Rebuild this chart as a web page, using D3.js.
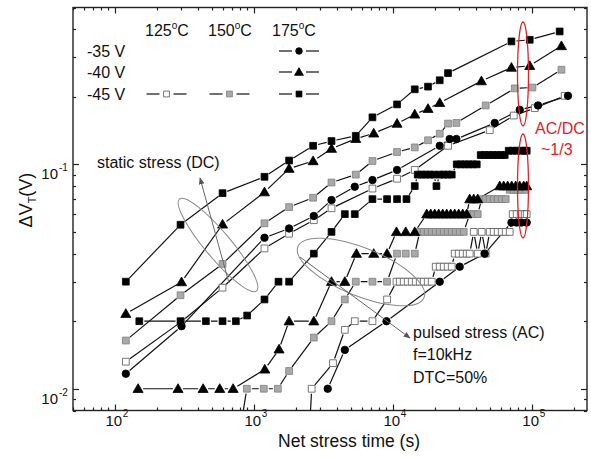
<!DOCTYPE html>
<html><head><meta charset="utf-8">
<script src="https://cdn.jsdelivr.net/npm/d3@7"></script>
<style>body{margin:0;background:#fff}svg{display:block}text{font-family:"Liberation Sans",Arial,sans-serif;fill:#111}</style>
</head><body><svg id="c" width="591" height="462"></svg>
<script>
// ---------- data (time in s, ΔVT in V) ----------
const xMajorTicks = [100, 1000, 10000, 100000];
const yMajorTicks = [0.01, 0.1];
const tempLabels = ["125", "150", "175"];
const voltLabels = ["-35 V", "-40 V", "-45 V"];

// static stress (DC)
const dcOpen125 = [[120,0.0132],[301,0.0199],[596,0.0282],[1194,0.0422],[1795,0.0491],[2704,0.0564],[3625,0.0637],[7145,0.078],[10740,0.0863],[14400,0.0944],[25000,0.121],[49900,0.142],[74300,0.165],[105200,0.178],[172600,0.202]];
const dcGray150 = [[120,0.0164],[297,0.0261],[596,0.036],[1194,0.0546],[1795,0.0645],[2673,0.071],[3625,0.083],[5420,0.090],[7145,0.1035],[10740,0.1135],[14400,0.119],[17940,0.128],[21780,0.137],[25000,0.152],[28700,0.153],[46650,0.183],[75500,0.218],[101200,0.220],[163700,0.264]];
const dcCircle175 = [[120,0.01167],[302,0.019],[1194,0.0471],[1795,0.0518],[2704,0.0589],[3625,0.0693],[5330,0.0795],[7145,0.0851],[10740,0.0944],[21780,0.121],[25700,0.1297],[28700,0.1297],[54200,0.153],[82000,0.175],[111000,0.183],[182500,0.202]];
const dcTri175 = [[120,0.0216],[302,0.0299],[596,0.054],[1194,0.0752],[1795,0.0957],[2673,0.1035],[3625,0.1175],[5420,0.130],[7295,0.1375],[10740,0.152],[14400,0.167],[17940,0.177],[21780,0.188],[43450,0.235],[71450,0.270],[96800,0.275],[163700,0.337]];
const dcSq175 = [[120,0.030],[297,0.0538],[596,0.0744],[1194,0.088],[1795,0.104],[2673,0.121],[3625,0.127],[5420,0.134],[7145,0.162],[10740,0.185],[14400,0.216],[17940,0.222],[21780,0.237],[25000,0.255],[71450,0.353],[96800,0.359],[158900,0.391]];

// pulsed stress (AC)
const acOpen125 = [[2500,0.006],[2610,0.01],[3715,0.013],[4520,0.0183],[5330,0.02],[7145,0.02],[9100,0.025],[10640,0.03],[11230,0.03],[12000,0.03],[12820,0.03],[13700,0.03],[14640,0.03],[15640,0.03],[16710,0.03],[17860,0.03],[19080,0.03],[20390,0.035],[21790,0.035],[23280,0.035],[24870,0.035],[26580,0.035],[27930,0.04],[29840,0.04],[31880,0.04],[34070,0.04],[35810,0.04],[38260,0.05],[40880,0.04],[43690,0.05],[46690,0.04],[49870,0.05],[53280,0.05],[56940,0.05],[60840,0.05],[65010,0.05],[69460,0.05],[73000,0.06],[78000,0.06],[83330,0.06],[89050,0.06],[92040,0.06]];
const acGray150 = [[780,0.006],[891,0.01],[1180,0.01],[1490,0.01],[1795,0.012],[2704,0.0169],[3625,0.02],[4520,0.025],[5420,0.03],[7145,0.03],[9100,0.03],[10740,0.04],[12400,0.04],[14400,0.04],[15640,0.05],[16710,0.05],[17860,0.05],[19080,0.05],[20390,0.05],[21790,0.05],[23280,0.05],[24870,0.05],[26580,0.05],[28400,0.05],[30340,0.05],[32420,0.05],[35810,0.06],[38260,0.06],[40880,0.06],[43690,0.07],[46690,0.07],[49870,0.07],[53280,0.07],[56940,0.07],[60840,0.07],[65010,0.07],[69460,0.077],[74000,0.077],[79000,0.077],[84400,0.077],[90000,0.077]];
const acCircle175 = [[3404,0.01],[4520,0.0149],[9020,0.02],[21790,0.03],[30340,0.035],[45900,0.04],[71450,0.055],[78000,0.055],[84400,0.055],[92040,0.055]];
const acTri175 = [[147,0.01],[285,0.01],[432,0.01],[569,0.01],[710,0.01],[1200,0.0122],[1520,0.015],[1795,0.02],[2704,0.02],[3625,0.03],[4520,0.03],[5480,0.04],[7295,0.04],[9100,0.04],[10640,0.05],[12400,0.05],[14400,0.05],[17570,0.06],[18770,0.06],[20060,0.06],[21430,0.06],[22890,0.06],[24460,0.06],[26140,0.06],[27930,0.06],[29840,0.06],[31880,0.06],[34070,0.06],[35810,0.07],[38260,0.07],[40880,0.07],[58870,0.08],[62880,0.08],[67190,0.08],[71790,0.08],[76710,0.08],[81960,0.08],[87580,0.08],[92040,0.08]];
const acSq175 = [[150,0.02],[297,0.02],[452,0.02],[596,0.02],[743,0.02],[896,0.0212],[1194,0.025],[1506,0.03],[1795,0.03],[2704,0.04],[3625,0.05],[4520,0.06],[5330,0.06],[7145,0.07],[9100,0.07],[10740,0.07],[12560,0.07],[14400,0.08],[15130,0.09],[16170,0.09],[17280,0.09],[18460,0.09],[19730,0.09],[20630,0.08],[21790,0.09],[23280,0.09],[24870,0.09],[26580,0.09],[28870,0.1],[30850,0.1],[32960,0.1],[35230,0.1],[37640,0.1],[40220,0.1],[42970,0.11],[45900,0.11],[49050,0.11],[52410,0.11],[56000,0.11],[59840,0.11],[63950,0.11],[68320,0.115],[73000,0.115],[78000,0.115],[83330,0.115],[89050,0.115],[92040,0.115]];

// ---------- setup ----------
const svg = d3.select("#c");
const L = 73, R = 587, T = 7.5, B = 410.5;
const x = d3.scaleLog().domain([50, 250000]).range([L, R]);
const y = d3.scaleLog().domain([0.008, 0.5]).range([B, T]);

svg.append("defs").append("clipPath").attr("id","clip")
  .append("rect").attr("x",L).attr("y",T).attr("width",R-L).attr("height",B-T);
const defs = svg.select("defs");
defs.append("marker").attr("id","arr").attr("viewBox","0 0 10 10").attr("refX",9).attr("refY",5)
  .attr("markerWidth",7).attr("markerHeight",7).attr("orient","auto-start-reverse")
  .append("path").attr("d","M0,1 L10,5 L0,9 z").attr("fill","#555");

// ---------- axes frame & ticks ----------
const isMajor = v => Math.abs(Math.log10(v) - Math.round(Math.log10(v))) < 1e-6;
const ax = svg.append("g").attr("stroke","#222").attr("stroke-width",1.2);
x.ticks().filter(v => v >= 50 && v <= 250000).forEach(v => {
  const len = isMajor(v) ? 6 : 3, px = Math.round(x(v)) + 0.5;
  ax.append("line").attr("x1",px).attr("x2",px).attr("y1",B).attr("y2",B-len);
  ax.append("line").attr("x1",px).attr("x2",px).attr("y1",T).attr("y2",T+len);
});
y.ticks().filter(v => v >= 0.008 && v <= 0.5).forEach(v => {
  const len = isMajor(v) ? 6 : 3, py = Math.round(y(v)) + 0.5;
  ax.append("line").attr("y1",py).attr("y2",py).attr("x1",L).attr("x2",L+len);
  ax.append("line").attr("y1",py).attr("y2",py).attr("x1",R).attr("x2",R-len);
});
ax.append("rect").attr("x",L).attr("y",T).attr("width",R-L).attr("height",B-T).attr("fill","none").attr("stroke-width",1.4);

// tick labels
xMajorTicks.forEach(v => {
  const px = x(v);
  svg.append("text").attr("x",px-1).attr("y",426).attr("text-anchor","middle").attr("font-size",15).text("10");
  svg.append("text").attr("x",px+8).attr("y",417).attr("font-size",10).text(Math.round(Math.log10(v)));
});
yMajorTicks.forEach(v => {
  const py = y(v);
  svg.append("text").attr("x",58).attr("y",py+15).attr("text-anchor","end").attr("font-size",15).text("10");
  svg.append("text").attr("x",59).attr("y",py+7).attr("font-size",10).text(Math.round(Math.log10(v)));
});

// axis titles
svg.append("text").attr("x",349).attr("y",447).attr("text-anchor","middle").attr("font-size",17.5).text("Net stress time (s)");
const yt = svg.append("text").attr("transform","translate(32,200) rotate(-90)").attr("text-anchor","middle").attr("font-size",18);
yt.append("tspan").text("ΔV");
yt.append("tspan").attr("font-size",11).attr("dy",4).text("T");
yt.append("tspan").attr("dy",-4).text("(V)");

// ---------- series ----------
const styles = {
  open:   {sym: d3.symbolSquare, size: 46, fill: "#fff", stroke: "#555"},
  gray:   {sym: d3.symbolSquare, size: 46, fill: "#a9a9a9", stroke: "#7d7d7d"},
  circle: {sym: d3.symbolCircle, size: 44, fill: "#000", stroke: "#000"},
  tri:    {sym: d3.symbolTriangle, size: 44, fill: "#000", stroke: "#000"},
  sq:     {sym: d3.symbolSquare, size: 46, fill: "#000", stroke: "#000"}
};
const plot = svg.append("g");
const lines = plot.append("g").attr("clip-path","url(#clip)");
function drawSeries(data, st, gap) {
  const pts = data.map(d => [x(d[0]), y(d[1])]);
  const g = lines.append("g");
  for (let i = 0; i < pts.length - 1; i++) {
    const [x1,y1] = pts[i], [x2,y2] = pts[i+1];
    const dx = x2-x1, dy = y2-y1, len = Math.hypot(dx,dy);
    if (len <= 2*gap + 1) continue;
    const ux = dx/len, uy = dy/len;
    g.append("line").attr("x1",x1+ux*gap).attr("y1",y1+uy*gap).attr("x2",x2-ux*gap).attr("y2",y2-uy*gap)
      .attr("stroke","#111").attr("stroke-width",1.2);
  }
  plot.append("g").selectAll("path").data(data.filter(d => d[1] >= 0.008)).join("path")
    .attr("d", d3.symbol().type(st.sym).size(st.size))
    .attr("transform", d => `translate(${x(d[0])},${y(d[1]) + (st.sym === d3.symbolTriangle ? 0.8 : 0)})`)
    .attr("fill", st.fill).attr("stroke", st.stroke).attr("stroke-width", 0.8);
}
const order = [
  [dcOpen125, styles.open], [dcGray150, styles.gray], [dcCircle175, styles.circle], [dcTri175, styles.tri], [dcSq175, styles.sq],
  [acOpen125, styles.open], [acGray150, styles.gray], [acCircle175, styles.circle], [acTri175, styles.tri], [acSq175, styles.sq]
];
order.forEach(([d, st]) => drawSeries(d, st, 5));

// ---------- legend ----------
const lg = svg.append("g");
[152, 215, 279].forEach((lx, i) => {
  const t = lg.append("text").attr("x",lx-7).attr("y",36).attr("font-size",16);
  t.append("tspan").text(tempLabels[i]);
  t.append("tspan").attr("font-size",10).attr("dy",-7).text("o");
  t.append("tspan").attr("dy",7).text("C");
});
voltLabels.forEach((s, i) => {
  lg.append("text").attr("x",87).attr("y",[57,78,99.5][i]).attr("font-size",16).text(s);
});
function legendItem(cx, cy, st) {
  lg.append("line").attr("x1",cx-20).attr("x2",cx-7).attr("y1",cy).attr("y2",cy).attr("stroke","#111").attr("stroke-width",1.2);
  lg.append("line").attr("x1",cx+7).attr("x2",cx+20).attr("y1",cy).attr("y2",cy).attr("stroke","#111").attr("stroke-width",1.2);
  lg.append("path").attr("d", d3.symbol().type(st.sym).size(34)).attr("transform",`translate(${cx},${cy + (st.sym===d3.symbolTriangle?0.8:0)})`)
    .attr("fill",st.fill).attr("stroke",st.stroke).attr("stroke-width",0.8);
}
legendItem(299, 51, styles.circle);
legendItem(299, 72, styles.tri);
legendItem(299, 94, styles.sq);
legendItem(166.5, 94, styles.open);
legendItem(229.5, 94, styles.gray);

// ---------- annotations ----------
const an = svg.append("g");
an.append("ellipse").attr("cx",0).attr("cy",0).attr("rx",60).attr("ry",13)
  .attr("transform","translate(218,245) rotate(50)").attr("fill","none").attr("stroke","#8a8a8a").attr("stroke-width",1);
an.append("line").attr("x1",229).attr("y1",283).attr("x2",200).attr("y2",178)
  .attr("stroke","#666").attr("stroke-width",1).attr("marker-end","url(#arr)");
an.append("text").attr("x",97).attr("y",168).attr("font-size",16).text("static stress (DC)");

an.append("ellipse").attr("cx",0).attr("cy",0).attr("rx",68).attr("ry",24)
  .attr("transform","translate(361,272) rotate(22)").attr("fill","none").attr("stroke","#8a8a8a").attr("stroke-width",1);
an.append("line").attr("x1",300).attr("y1",257).attr("x2",410).attr("y2",338)
  .attr("stroke","#666").attr("stroke-width",1).attr("marker-end","url(#arr)");
an.append("text").attr("x",413).attr("y",338).attr("font-size",16).text("pulsed stress (AC)");
an.append("text").attr("x",413).attr("y",360).attr("font-size",16).text("f=10kHz");
an.append("text").attr("x",413).attr("y",383).attr("font-size",16).text("DTC=50%");

an.append("ellipse").attr("cx",523).attr("cy",74).attr("rx",5.5).attr("ry",52).attr("fill","none").attr("stroke","#e3202a").attr("stroke-width",1.3);
an.append("ellipse").attr("cx",523).attr("cy",186).attr("rx",5.5).attr("ry",52).attr("fill","none").attr("stroke","#e3202a").attr("stroke-width",1.3);
an.append("text").attr("x",535).attr("y",134).attr("font-size",16).style("fill","#e3202a").text("AC/DC");
an.append("text").attr("x",541).attr("y",155).attr("font-size",16).style("fill","#e3202a").text("~1/3");
</script></body></html>
